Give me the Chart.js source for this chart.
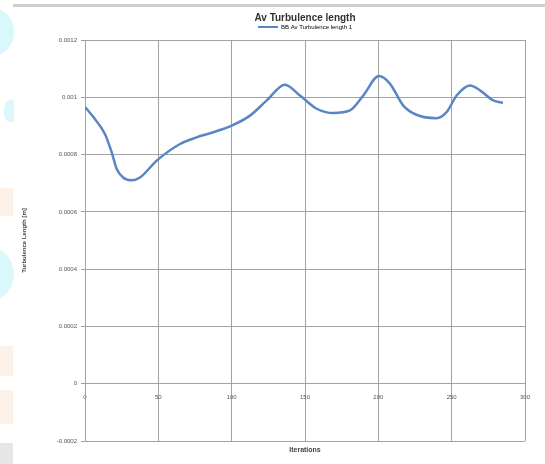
<!DOCTYPE html>
<html>
<head>
<meta charset="utf-8">
<script src="https://cdn.jsdelivr.net/npm/chart.js@4.4.1/dist/chart.umd.min.js"></script>
<style>
html,body{margin:0;padding:0;background:#fff;}
#wrap{position:relative;width:545px;height:464px;overflow:hidden;}
#c{position:absolute;left:0;top:0;z-index:2;}
.deco{position:absolute;z-index:1;}
</style>
</head>
<body>
<div id="wrap">
  <div class="deco" style="left:13px;top:4px;width:532px;height:3px;background:#cfcfcf;"></div>
  <div class="deco" style="left:-30px;top:8px;width:44px;height:48px;border-radius:50%;background:#d9f8fc;"></div>
  <div class="deco" style="left:4px;top:100px;width:10px;height:22px;border-radius:60% 0 0 60%;background:#dcf8fc;"></div>
  <div class="deco" style="left:0px;top:188px;width:13px;height:28px;background:#fdf1e7;"></div>
  <div class="deco" style="left:-40px;top:246px;width:54px;height:56px;border-radius:50%;background:#d9f8fc;"></div>
  <div class="deco" style="left:0px;top:346px;width:13px;height:30px;background:#fdf1e7;"></div>
  <div class="deco" style="left:0px;top:390px;width:13px;height:34px;background:#fdf1e7;"></div>
  <div class="deco" style="left:0px;top:443px;width:13px;height:21px;background:#e6e6e6;"></div>
  <canvas id="c" width="545" height="464"></canvas>
</div>
<script>
const chartTitle = "Av Turbulence length";
const seriesName = "BB Av Turbulence length 1";
const xTitle = "Iterations";
const yTitle = "Turbulence Length [m]";
const iterations = [0, 5.7, 13.6, 18.2, 21.6, 26, 31.8, 37.5, 48.9, 64.8, 76, 87.5, 100, 112.5, 123.9, 136.3, 146.6, 158, 169.3, 180.6, 189.7, 200.4, 208, 217, 226, 239.7, 246.5, 253.4, 262.5, 269.3, 278.3, 285];
const turbLength = [0.000966, 0.000931, 0.000872, 0.000808, 0.00075, 0.00072, 0.00071, 0.00072, 0.000779, 0.000837, 0.00086, 0.000878, 0.000901, 0.000936, 0.000989, 0.001044, 0.001006, 0.00096, 0.000945, 0.000954, 0.001006, 0.001074, 0.001047, 0.000971, 0.000939, 0.000927, 0.000948, 0.001006, 0.001041, 0.001024, 0.000989, 0.00098];
const xTicks = [0, 50, 100, 150, 200, 250, 300];
const yTicks = [-0.0002, 0, 0.0002, 0.0004, 0.0006, 0.0008, 0.001, 0.0012];

const points = iterations.map((x, i) => ({x: x, y: turbLength[i]}));
const lineColor = '#5a86c5';

const xTitlePlugin = {
  id: 'xTitlePlugin',
  afterDraw(chart) {
    const ctx = chart.ctx, a = chart.chartArea;
    ctx.save();
    ctx.font = 'bold 7px "Liberation Sans", Arial, sans-serif';
    ctx.fillStyle = '#444';
    ctx.textAlign = 'center';
    ctx.textBaseline = 'middle';
    ctx.fillText(xTitle, (a.left + a.right) / 2, a.bottom + 9);
    ctx.restore();
  }
};

new Chart(document.getElementById('c'), {
  type: 'scatter',
  data: {
    datasets: [{
      label: seriesName,
      data: points,
      showLine: true,
      borderColor: lineColor,
      backgroundColor: lineColor,
      borderWidth: 2.5,
      pointRadius: 0,
      tension: 0.4,
      cubicInterpolationMode: 'monotone'
    }]
  },
  options: {
    responsive: false,
    animation: false,
    layout: { padding: { left: 0, right: 20, top: 6, bottom: 23 } },
    plugins: {
      title: {
        display: true,
        fullSize: false,
        text: chartTitle,
        color: '#333',
        font: { family: '"Liberation Sans", Arial, sans-serif', size: 10, weight: 'bold' },
        padding: { top: 6, bottom: -7 }
      },
      legend: {
        display: true,
        fullSize: false,
        labels: {
          color: '#555',
          font: { family: '"Liberation Sans", Arial, sans-serif', size: 6 },
          boxWidth: 20,
          boxHeight: 0,
          padding: 7,
          generateLabels(chart) {
            return [{ text: seriesName, strokeStyle: lineColor, fillStyle: lineColor, lineWidth: 2, datasetIndex: 0 }];
          }
        }
      },
      tooltip: { enabled: false }
    },
    scales: {
      x: {
        type: 'linear',
        position: { y: 0 },
        min: 0, max: 300,
        afterBuildTicks(scale) { scale.ticks = xTicks.map(v => ({ value: v })); },
        ticks: {
          color: '#555',
          font: { family: '"Liberation Sans", Arial, sans-serif', size: 6 },
          padding: 7,
          maxRotation: 0
        },
        grid: { color: '#a2a2a2', lineWidth: 1, tickLength: 3 },
        border: { color: '#a2a2a2' }
      },
      y: {
        type: 'linear',
        min: -0.0002, max: 0.0012,
        afterBuildTicks(scale) { scale.ticks = yTicks.map(v => ({ value: v })); },
        afterFit(scale) { scale.width = 85; },
        ticks: {
          color: '#555',
          font: { family: '"Liberation Sans", Arial, sans-serif', size: 6 },
          padding: 4,
          callback: v => String(Number(v.toFixed(4)))
        },
        title: {
          display: true,
          text: yTitle,
          color: '#444',
          font: { family: '"Liberation Sans", Arial, sans-serif', size: 6, weight: 'bold' },
          padding: { top: 21, bottom: 0 }
        },
        grid: { color: '#a2a2a2', lineWidth: 1, tickLength: 4 },
        border: { color: '#a2a2a2' }
      }
    }
  },
  plugins: [xTitlePlugin]
});
</script>
</body>
</html>
